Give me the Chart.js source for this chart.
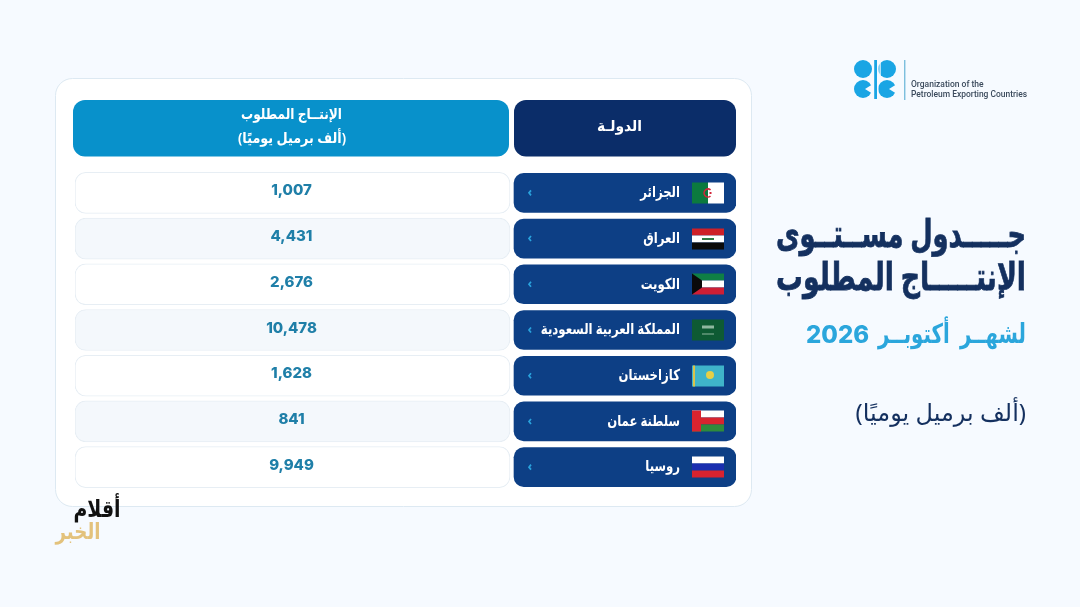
<!DOCTYPE html>
<html lang="ar">
<head>
<meta charset="utf-8">
<title>OPEC</title>
<script src="https://cdn.jsdelivr.net/npm/chart.js@4"></script>
<style>
html, body { margin: 0; padding: 0; background: #f6faff; overflow: hidden; }
canvas { display: block; }
</style>
</head>
<body>
<canvas id="opecTable" width="1080" height="607"></canvas>
<script>
const countries = ['الجزائر', 'العراق', 'الكويت', 'المملكة العربية السعودية', 'كازاخستان', 'سلطنة عمان', 'روسيا'];
const production = [1007, 4431, 2676, 10478, 1628, 841, 9949];
const countryHeader = 'الدولـة';
const productionHeader = ['الإنتــاج المطلوب', '(ألف برميل يوميًا)'];
const titleLines = ['جـــــدول مســتــوى', 'الإنتـــــاج المطلوب'];
const subtitleMonth = 'لشهــر  أكتوبــر';
const subtitleYear = '2026';
const unitLabel = '(ألف برميل يوميًا)';
const logoLines = ['Organization of the', 'Petroleum Exporting Countries'];
const watermark = ['أقلام', 'الخبر'];

const arabicFont = '"Noto Sans", "DejaVu Sans", sans-serif';
const valueRange = [0, 435];
const countryRange = [439, 661];

function rect(ctx, color, x, y, w, h) {
    ctx.fillStyle = color;
    ctx.fillRect(x, y, w, h);
}

function bands(ctx, colors, x, y, w, h) {
    colors.forEach((c, i) => rect(ctx, c, x, y + i * h / colors.length, w, h / colors.length));
}

// flags are in the same order as countries
const flagPainters = [
    (ctx, x, y, w, h) => {
        rect(ctx, '#0c7a3e', x, y, w / 2, h);
        rect(ctx, '#ffffff', x + w / 2, y, w / 2, h);
        ctx.strokeStyle = '#d2263a';
        ctx.lineWidth = 1.5;
        ctx.beginPath();
        ctx.arc(x + w / 2, y + h / 2, 4, 0.9, 5.4);
        ctx.stroke();
        rect(ctx, '#d2263a', x + w / 2 + 1.5, y + h / 2 - 1, 2, 2);
    },
    (ctx, x, y, w, h) => {
        bands(ctx, ['#ce2028', '#ffffff', '#0b0b0b'], x, y, w, h);
        rect(ctx, '#2f7a45', x + w / 2 - 6, y + h / 2 - 1, 12, 2);
    },
    (ctx, x, y, w, h) => {
        bands(ctx, ['#0f7f45', '#ffffff', '#ce1f35'], x, y, w, h);
        ctx.fillStyle = '#0a0a0a';
        ctx.beginPath();
        ctx.moveTo(x, y);
        ctx.lineTo(x + 10, y + h / 3);
        ctx.lineTo(x + 10, y + 2 * h / 3);
        ctx.lineTo(x, y + h);
        ctx.closePath();
        ctx.fill();
    },
    (ctx, x, y, w, h) => {
        rect(ctx, '#0e5a33', x, y, w, h);
        rect(ctx, '#8fb8a0', x + 10, y + 6, 12, 3);
        rect(ctx, '#8fb8a0', x + 10, y + 14, 12, 1);
    },
    (ctx, x, y, w, h) => {
        rect(ctx, '#3fb4c9', x, y, w, h);
        rect(ctx, '#d9c24a', x + 1, y, 2, h);
        ctx.fillStyle = '#e6cf45';
        ctx.beginPath();
        ctx.arc(x + w / 2 + 2, y + h / 2 - 1, 4, 0, Math.PI * 2);
        ctx.fill();
    },
    (ctx, x, y, w, h) => {
        bands(ctx, ['#ffffff', '#d9242f', '#2f8b3c'], x, y, w, h);
        rect(ctx, '#d9242f', x, y, 9, h);
    },
    (ctx, x, y, w, h) => {
        bands(ctx, ['#ffffff', '#1a2fb0', '#d8232f'], x, y, w, h);
    }
];

function card(ctx, x, y, w, h, r, fill, stroke) {
    ctx.beginPath();
    ctx.roundRect(x, y, w, h, r);
    ctx.fillStyle = fill;
    ctx.fill();
    if (stroke) {
        ctx.strokeStyle = stroke;
        ctx.lineWidth = 1;
        ctx.stroke();
    }
}

function label(ctx, text, x, y, font, color, align, direction, maxWidth) {
    ctx.font = font;
    ctx.fillStyle = color;
    ctx.textAlign = align;
    ctx.textBaseline = 'middle';
    ctx.direction = direction || 'rtl';
    if (maxWidth) {
        ctx.fillText(text, x, y, maxWidth);
    } else {
        ctx.fillText(text, x, y);
    }
}

function drawLogo(ctx) {
    const blue = '#1aa5e4';
    [[863, 69], [887, 69], [863, 89], [887, 89]].forEach(p => {
        ctx.fillStyle = blue;
        ctx.beginPath();
        ctx.arc(p[0], p[1], 9, 0, Math.PI * 2);
        ctx.fill();
    });
    // notches for the C shapes at the bottom
    ctx.fillStyle = '#f6faff';
    ctx.beginPath();
    ctx.moveTo(865, 89); ctx.lineTo(873, 84); ctx.lineTo(873, 94); ctx.closePath();
    ctx.moveTo(889, 89); ctx.lineTo(897, 84); ctx.lineTo(897, 94); ctx.closePath();
    ctx.fill();
    rect(ctx, '#f6faff', 872.5, 58, 6, 42);
    rect(ctx, blue, 874.2, 60, 2.8, 39);
    rect(ctx, '#f6faff', 879.5, 60, 1.2, 18);
    rect(ctx, '#4aa6cf', 904.3, 60, 1, 40);
    label(ctx, logoLines[0], 911, 84.5, '500 8.5px Roboto', '#3b4a5c', 'left', 'ltr');
    label(ctx, logoLines[1], 911, 95, '500 8.5px Roboto', '#3b4a5c', 'left', 'ltr', 116);
}

const tablePlugin = {
    id: 'tablePlugin',
    beforeDraw(chart) {
        const ctx = chart.ctx;
        const xs = chart.scales.x;
        ctx.save();
        rect(ctx, '#f6faff', 0, 0, 1080, 607);
        card(ctx, 55.5, 78.5, 696, 428, 17, '#ffffff', '#dde9f2');
        card(ctx, xs.getPixelForValue(-2), 100, 436, 56.5, 12, '#0891cb');
        card(ctx, xs.getPixelForValue(countryRange[0]), 100, 222, 56.5, 12, '#0b2d69');
        ctx.restore();
    },
    afterDatasetsDraw(chart) {
        const ctx = chart.ctx;
        const xs = chart.scales.x;
        const ys = chart.scales.y;
        ctx.save();
        const valueCenter = xs.getPixelForValue((valueRange[0] + valueRange[1]) / 2) - 1;
        const countryLeft = xs.getPixelForValue(countryRange[0]);
        production.forEach((v, i) => {
            const yc = ys.getPixelForValue(i);
            label(ctx, v.toLocaleString('en-US'), valueCenter, yc - 2, '800 15px Inter', '#1f7fa8', 'center', 'ltr');
            flagPainters[i](ctx, countryLeft + 178, Math.round(yc) - 10.5, 32, 21);
            // country names come from the category scale, squeezed to the narrower width of the original font
            const name = ys.getLabelForValue(i);
            ctx.font = '700 15px ' + arabicFont;
            label(ctx, name, countryLeft + 166, yc, ctx.font, '#ffffff', 'right', 'rtl', ctx.measureText(name).width * 0.78);
            ctx.strokeStyle = '#2aa3dd';
            ctx.lineWidth = 1.7;
            ctx.beginPath();
            ctx.moveTo(countryLeft + 17, yc - 2.5);
            ctx.lineTo(countryLeft + 15, yc);
            ctx.lineTo(countryLeft + 17, yc + 2.5);
            ctx.stroke();
        });
        label(ctx, countryHeader, 619.5, 127, '700 15px ' + arabicFont, '#ffffff', 'center', 'rtl', 45);
        label(ctx, productionHeader[0], 291.5, 115, '700 15px ' + arabicFont, '#ffffff', 'center', 'rtl', 101);
        label(ctx, productionHeader[1], 292, 139, '700 15px ' + arabicFont, '#ffffff', 'center', 'rtl', 108);
        titleLines.forEach((line, i) => {
            label(ctx, line, 1026, 236 + i * 43, '800 38px ' + arabicFont, '#14305f', 'right', 'rtl', 250);
            ctx.strokeStyle = '#14305f';
            ctx.lineWidth = 0.8;
            ctx.strokeText(line, 1026, 236 + i * 43, 250);
        });
        label(ctx, subtitleMonth, 1026, 335, '700 27px ' + arabicFont, '#2ba6dc', 'right', 'rtl', 148);
        label(ctx, subtitleYear, 806, 336, '800 24px Inter', '#2ba6dc', 'left', 'ltr', 64);
        label(ctx, unitLabel, 1026, 414, '400 24px ' + arabicFont, '#14305f', 'right', 'rtl', 171);
        label(ctx, watermark[0], 97, 510, '700 24px ' + arabicFont, '#111111', 'center', 'rtl', 47);
        label(ctx, watermark[1], 78, 533, '700 22px ' + arabicFont, '#e3c27c', 'center', 'rtl', 45);
        drawLogo(ctx);
        ctx.restore();
    }
};

const tableChart = new Chart(document.getElementById('opecTable'), {
    type: 'bar',
    data: {
        labels: countries,
        datasets: [
            {
                data: countries.map(() => valueRange),
                backgroundColor: countries.map((c, i) => i % 2 ? '#f4f8fc' : '#ffffff'),
                borderColor: '#e7eef4',
                borderWidth: 1,
                borderSkipped: false,
                borderRadius: 11,
                barThickness: 41,
                grouped: false
            },
            {
                data: countries.map(() => countryRange),
                backgroundColor: '#0d3f85',
                borderWidth: 0,
                borderSkipped: false,
                borderRadius: 10,
                barThickness: 39,
                grouped: false
            }
        ]
    },
    options: {
        indexAxis: 'y',
        responsive: false,
        animation: false,
        layout: { padding: { left: 75, right: 344, top: 170, bottom: 117 } },
        scales: {
            x: { type: 'linear', min: 0, max: 661, display: false },
            y: { display: false }
        },
        plugins: {
            legend: { display: false },
            title: { display: false },
            tooltip: { enabled: false }
        }
    },
    plugins: [tablePlugin]
});
</script>
</body>
</html>
